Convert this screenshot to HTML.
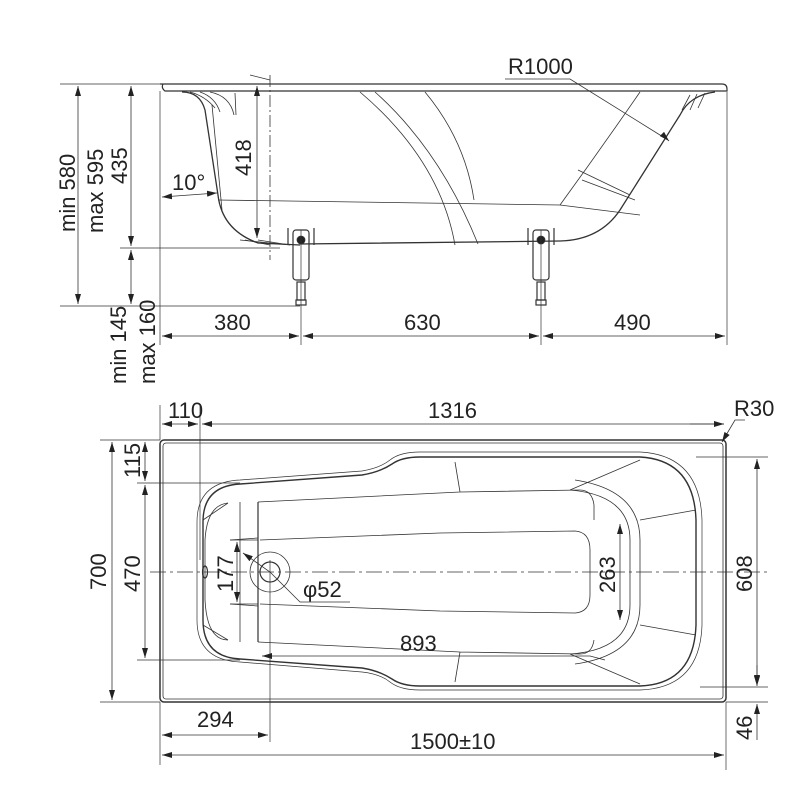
<!DOCTYPE html>
<html><head><meta charset="utf-8"><style>
html,body{margin:0;padding:0;background:#fff}
svg{display:block}
text{font-family:"Liberation Sans Narrow","Liberation Sans",sans-serif;font-size:22px;fill:#222}
</style></head><body>
<svg width="800" height="800" viewBox="0 0 800 800" xmlns="http://www.w3.org/2000/svg">
<defs>
<marker id="a" viewBox="0 0 10 6" refX="10" refY="3" markerWidth="10" markerHeight="6" orient="auto-start-reverse" markerUnits="userSpaceOnUse"><path d="M0,0 L10,3 L0,6 Z" fill="#222"/></marker>
</defs>
<g fill="none" stroke="#333" stroke-width="0.8">
<path d="M160,84 L722,84 Q727,84 727,89 L727,91 L165,91 Q161,88 163,84" stroke-width="1.2"/>
<path d="M182,92 Q200,92 205,110 L218,195 Q222,230 258,243 L300,245" stroke-width="1.3"/>
<path d="M300,244 L560,241 Q600,240 620,210 L680,115 Q690,95 715,92" stroke-width="1.3"/>
<path d="M190,92 Q205,96 215,108 M200,92 Q215,97 220,112 M210,92 Q230,96 234,115 M235,93 L236,115"/>
<path d="M690,95 L682,110 M697,94 L690,110 M705,93 L698,108"/>
<path d="M218,200 L560,205 L640,215"/>
<path d="M560,205 Q600,150 640,92 M578,170 L630,195 M582,180 L635,200"/>
<path d="M360,92 Q440,160 455,245 M375,92 Q440,150 478,244 M425,92 Q465,140 474,200"/>
<path d="M212,105 L222,210"/>
<path d="M240,240 L290,245 L258,240"/>
<g stroke-width="1.2">
<rect x="293" y="230" width="16" height="50" rx="3"/><rect x="297" y="282" width="8" height="18"/><rect x="296" y="300" width="10" height="5"/>
<rect x="533" y="230" width="16" height="50" rx="3"/><rect x="537" y="282" width="8" height="18"/><rect x="536" y="300" width="10" height="5"/>
<path d="M288,228 L288,245 M314,228 L314,245 M528,228 L528,245 M554,228 L554,245"/>
</g>
<circle cx="301" cy="240" r="4" fill="#222"/><circle cx="541" cy="240" r="4" fill="#222"/>
<path d="M60,84 L160,84 M60,306 L300,306 M120,248 L280,248 M160,91 L160,345 M727,92 L727,345 M301,230 L301,345 M541,230 L541,345" stroke-width="0.7"/>
<path d="M270,75 L270,260" stroke-dasharray="12,3,2,3"/>
<path d="M78,86 L78,304" marker-start="url(#a)" marker-end="url(#a)"/>
<path d="M131,86 L131,246" marker-start="url(#a)" marker-end="url(#a)"/>
<path d="M131,250 L131,304" marker-start="url(#a)" marker-end="url(#a)"/>
<path d="M257,86 L257,238" marker-start="url(#a)" marker-end="url(#a)"/>
<path d="M250,75 L270,80 M245,240 L270,245"/>
<path d="M162,197 L217,193" marker-start="url(#a)" marker-end="url(#a)"/>
<path d="M162,336 L299,336" marker-start="url(#a)" marker-end="url(#a)"/>
<path d="M303,336 L539,336" marker-start="url(#a)" marker-end="url(#a)"/>
<path d="M543,336 L725,336" marker-start="url(#a)" marker-end="url(#a)"/>
<path d="M505,79 L570,79 L668,140"/>
<path d="M668,140 L669,141" marker-end="url(#a)"/>

<rect x="160" y="440" width="566" height="262" rx="4" stroke-width="1.5"/>
<rect x="163" y="443" width="560" height="256" rx="3"/>
<path d="M240,480 L362,471 Q380,468 390,460 Q400,452 420,452 L640,452 Q700,455 702,520 L702,625 Q700,688 640,690 L420,690 Q400,690 390,682 Q380,674 362,672 L240,662 Q197,660 197,620 L197,522 Q197,482 240,480 Z" stroke-width="0.7"/>
<path d="M240,484 L362,475 Q380,472 392,464 Q402,457 420,457 L640,457 Q694,460 696,520 L696,625 Q694,684 640,686 L420,686 Q402,686 392,679 Q380,671 362,668 L240,659 Q203,657 203,620 L203,522 Q203,486 240,484 Z" stroke-width="1.4"/>
<path d="M258,502 L460,492 L580,490 Q592,490 594,505 L594,520 M258,642 L460,652 L580,654 Q592,654 594,640 M460,492 L455,462 M460,652 L455,682"/>
<path d="M228,503 Q207,505 205,540 L205,600 Q207,640 228,640 M230,540 L258,538 M230,604 L258,606"/>
<path d="M260,540 L440,533 L575,531 Q590,532 590,550 L590,595 Q590,612 575,613 L440,611 L260,604"/>
<path d="M570,490 Q630,495 630,540 L630,605 Q630,650 570,654 M575,480 Q640,490 640,540 L640,605 Q640,655 575,664"/>
<path d="M640,520 L696,510 M640,625 L696,635 M570,490 L640,460 M570,654 L640,684 M228,503 L203,520 M228,640 L203,625"/>
<path d="M258,502 L258,642" stroke-width="1.2"/>
<path d="M240,502 L240,642"/>
<circle cx="270" cy="572" r="10" stroke-width="1.2"/>
<circle cx="270" cy="572" r="20"/>
<ellipse cx="205" cy="572" rx="2.5" ry="6" stroke-width="1.2"/>
<path d="M150,572 L770,572" stroke-dasharray="16,4,3,4" stroke-width="0.7"/>
<path d="M160,405 L160,440 M200,405 L200,560 M726,702 L726,770 M100,440 L160,440 M100,702 L160,702 M137,483 L240,483 M137,660 L240,660 M696,457 L768,457 M700,687 L768,687 M726,702 L768,702 M270,560 L270,742 M160,702 L160,765 M230,540 L258,540 M230,604 L258,604" stroke-width="0.7"/>
<path d="M162,424 L198,424" marker-start="url(#a)" marker-end="url(#a)"/>
<path d="M202,424 L724,424" marker-start="url(#a)"/>
<path d="M690,424 L724,424" marker-end="url(#a)"/>
<path d="M112,442 L112,700" marker-start="url(#a)" marker-end="url(#a)"/>
<path d="M145,442 L145,481" marker-start="url(#a)" marker-end="url(#a)"/>
<path d="M145,485 L145,658" marker-start="url(#a)" marker-end="url(#a)"/>
<path d="M237,542 L237,602" marker-start="url(#a)" marker-end="url(#a)"/>
<path d="M620,524 L620,620" marker-start="url(#a)" marker-end="url(#a)"/>
<path d="M757,459 L757,685" marker-start="url(#a)" marker-end="url(#a)"/>
<path d="M757,704 L757,740" marker-start="url(#a)"/>
<path d="M757,665 L757,686" marker-end="url(#a)"/>
<path d="M162,735 L268,735" marker-start="url(#a)" marker-end="url(#a)"/>
<path d="M162,755 L724,755" marker-start="url(#a)" marker-end="url(#a)"/>
<path d="M262,656 L590,656 L605,660" marker-start="url(#a)"/>
<path d="M243,553 L270,572 L284,586" marker-start="url(#a)"/>
<path d="M284,586 L300,602 L350,602"/>
<path d="M745,420 L735,420 L722,442" marker-end="url(#a)"/>
</g>
<text transform="translate(75,232) rotate(-90)">min 580</text>
<text transform="translate(103,233) rotate(-90)">max 595</text>
<text transform="translate(127,184) rotate(-90)">435</text>
<text transform="translate(251,176) rotate(-90)">418</text>
<text x="172" y="190">10°</text>
<text transform="translate(126,384) rotate(-90)">min 145</text>
<text transform="translate(155,384) rotate(-90)">max 160</text>
<text x="214" y="330">380</text>
<text x="404" y="330">630</text>
<text x="614" y="330">490</text>
<text x="508" y="74">R1000</text>
<text x="168" y="418">110</text>
<text x="428" y="418">1316</text>
<text x="734" y="416">R30</text>
<text transform="translate(106,590) rotate(-90)">700</text>
<text transform="translate(140,592) rotate(-90)">470</text>
<text transform="translate(140,478) rotate(-90)">115</text>
<text transform="translate(233,592) rotate(-90)">177</text>
<text transform="translate(615,593) rotate(-90)">263</text>
<text transform="translate(752,592) rotate(-90)">608</text>
<text transform="translate(752,740) rotate(-90)">46</text>
<text x="303" y="597">φ52</text>
<text x="400" y="651">893</text>
<text x="197" y="727">294</text>
<text x="410" y="749">1500±10</text>
</svg>
</body></html>
